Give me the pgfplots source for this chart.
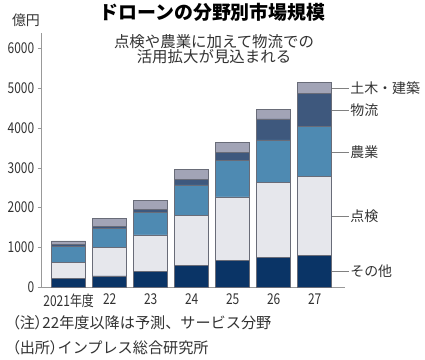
\documentclass[border=0pt]{standalone}
\usepackage{fontspec}
\setmainfont{Noto Sans CJK JP}
\newfontfamily\numfont[FakeStretch=0.8]{Noto Sans CJK JP}
\usepackage{pgfplots}
\usepackage{pgfplotstable}
\pgfplotsset{compat=1.18}
\definecolor{csonota}{RGB}{10,52,102}
\definecolor{ctenken}{RGB}{230,231,236}
\definecolor{cnogyo}{RGB}{78,138,178}
\definecolor{cbutsu}{RGB}{62,88,125}
\definecolor{cdoboku}{RGB}{162,164,182}
\definecolor{barline}{RGB}{105,108,120}
\definecolor{txt}{RGB}{50,50,50}
\tikzset{lbl/.style={anchor=west, inner sep=1bp, text=txt, font=\fontsize{14}{14}\selectfont}}
\newcommand\pp[1]{{\addfontfeatures{RawFeature=+palt}#1}}

\pgfplotstableread{
x a b c d e
0 210 410 410 40 90
1 280 720 480 40 210
2 390 920 570 75 220
3 540 1270 760 140 240
4 660 1610 910 210 250
5 740 1895 1065 530 245
6 805 1970 1260 840 270
}\data

\begin{document}
\begin{tikzpicture}
\useasboundingbox (0,0) rectangle (425bp,360bp);
\node[font=\fontsize{19}{19}\selectfont\bfseries] at (212.5bp,347.5bp) {ドローンの分野別市場規模};
\node[font=\fontsize{15.5}{15.5}\selectfont, align=center, text=txt] at (214bp,310.7bp) {点検や農業に加えて物流での\\活用拡大が見込まれる};
\node[font=\fontsize{14}{14}\selectfont, text=txt] at (26bp,340bp) {億円};
\node[font=\fontsize{15.2}{15.2}\selectfont, text=txt, anchor=west, inner sep=0pt] at (12bp,37bp) {\pp{（注）}22年度以降は予測、サービス分野};
\node[font=\fontsize{15.2}{15.2}\selectfont, text=txt, anchor=west, inner sep=0pt] at (12bp,12bp) {\pp{（出所）}インプレス総合研究所};
\begin{axis}[
  at={(40.7bp,73bp)}, anchor=south west,
  width=304.3bp, height=254.3bp, scale only axis,
  xmin=-0.683, xmax=6.74, ymin=0, ymax=6400,
  ybar stacked, bar width=34bp,
  axis lines=left, axis line style={-, draw=gray!80},
  ytick={0,1000,...,6000}, xtick={0,...,6},
  xticklabels={2021年度,22,23,24,25,26,27},
  tick align=outside, major tick length=3bp,
  xtick style={draw=none}, ytick style={draw=gray!80},
  /pgf/number format/assume math mode=true,
  /pgf/number format/1000 sep={},
  yticklabel style={font=\numfont\fontsize{15}{15}\selectfont, text=txt},
  xticklabel style={font=\numfont\fontsize{15}{15}\selectfont, text=txt},
  clip=false,
]
\addplot[fill=csonota, draw=barline, line width=0.6bp] table[x=x,y=a]{\data};
\addplot[fill=ctenken, draw=barline, line width=0.6bp] table[x=x,y=b]{\data};
\addplot[fill=cnogyo, draw=barline, line width=0.6bp] table[x=x,y=c]{\data};
\addplot[fill=cbutsu, draw=barline, line width=0.6bp] table[x=x,y=d]{\data};
\addplot[fill=cdoboku, draw=barline, line width=0.6bp] table[x=x,y=e]{\data};
\draw[gray] (axis cs:6.415,5010) -- (axis cs:6.84,5010) node[lbl] {土木・建築};
\draw[gray] (axis cs:6.415,4455) -- (axis cs:6.84,4455) node[lbl] {物流};
\draw[gray] (axis cs:6.415,3405) -- (axis cs:6.84,3405) node[lbl] {農業};
\draw[gray] (axis cs:6.415,1790) -- (axis cs:6.84,1790) node[lbl] {点検};
\draw[gray] (axis cs:6.415,402) -- (axis cs:6.84,402) node[lbl] {その他};
\end{axis}
\end{tikzpicture}
\end{document}
